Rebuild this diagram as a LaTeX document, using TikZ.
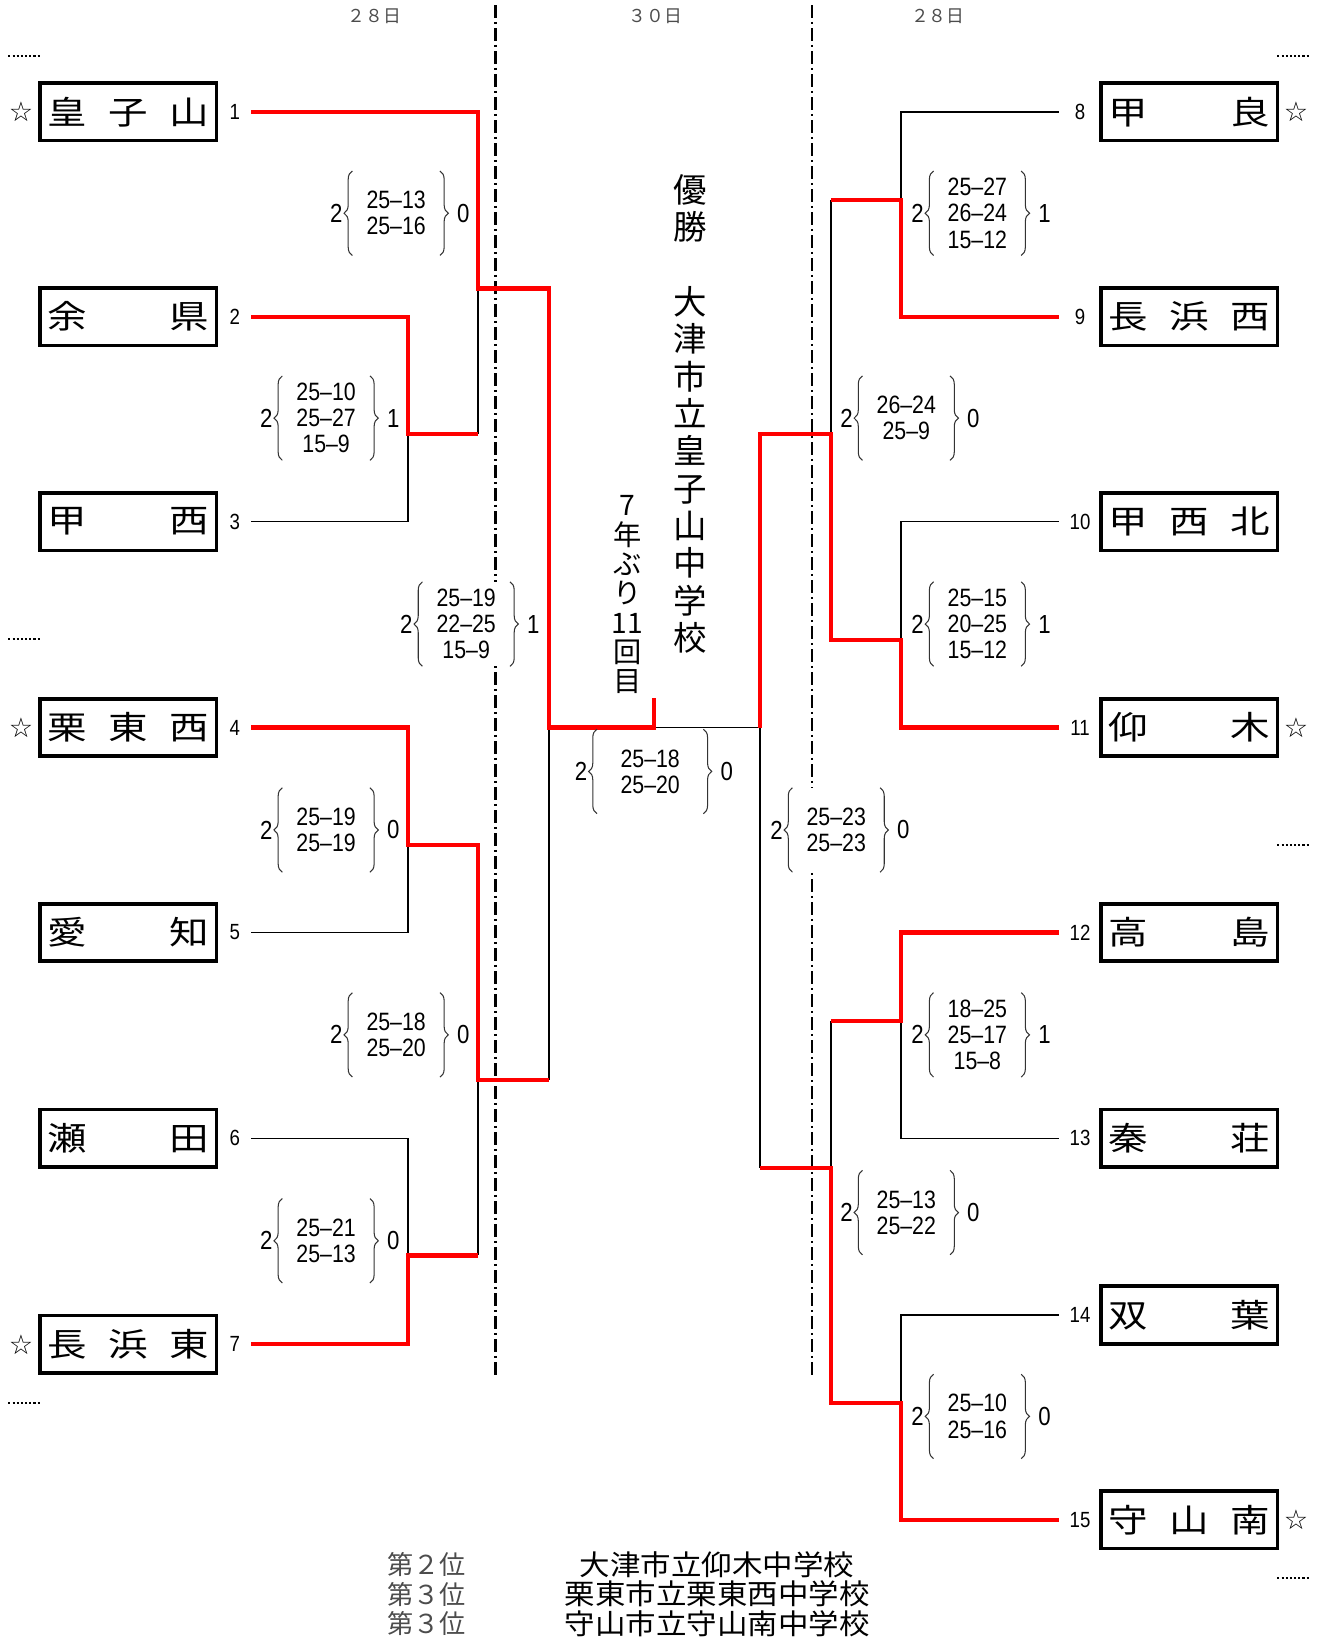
\documentclass[tikz,border=0pt]{standalone}
\usepackage{fontspec}
\usetikzlibrary{decorations.pathreplacing}
\newfontfamily\jfont{Noto Sans CJK JP}
\newfontfamily\jwide[FakeStretch=1.22]{Noto Sans CJK JP}
\newfontfamily\jbottom[FakeStretch=1.08]{Noto Sans CJK JP}
\newfontfamily\numfont[FakeStretch=0.85]{Liberation Sans}
\newfontfamily\symfont{DejaVu Sans}

\tikzset{
  teambox/.style={draw, line width=1.75pt, minimum width=84.5pt, minimum height=27.5pt,
    inner sep=0pt, text width=77.5pt, align=left, font=\jwide\fontsize{15.5}{16}\selectfont},
  numL/.style={inner sep=0pt, minimum width=15pt, font=\numfont\fontsize{10.5}{10.5}\selectfont},
  numR/.style={inner sep=0pt, minimum width=20pt, font=\numfont\fontsize{10.5}{10.5}\selectfont},
  starmark/.style={inner sep=0pt, font=\symfont\fontsize{13}{13}\selectfont},
  win/.style={red, line width=2pt},
  lose/.style={black, line width=0.8pt},
  scorebox/.style={inner sep=0pt, minimum height=40pt, align=center, fill=white,
    font=\numfont\fontsize{12}{12.5}\selectfont},
  scorebrace/.style={decorate, decoration={brace, amplitude=4pt}, line width=0.5pt, black!80},
  scoreside/.style={inner sep=1pt, font=\numfont\fontsize{12.5}{12.5}\selectfont},
  daydash/.style={line width=1pt, dash pattern=on 6pt off 2pt on 1pt off 2pt},
  dotsep/.style={line width=1pt, dash pattern=on 1pt off 1pt},
  dayname/.style={font=\jfont\fontsize{8.5}{9}\selectfont, black!70},
  champ/.style={align=center, inner sep=0pt, font=\jfont\fontsize{16}{17.85}\selectfont},
  years/.style={align=center, inner sep=0pt, font=\jfont\fontsize{13.5}{14}\selectfont},
  place/.style={inner sep=0pt, font=\jfont\fontsize{12.5}{14}\selectfont, black!70},
  school/.style={inner sep=0pt, font=\jbottom\fontsize{13.5}{14}\selectfont}
}

% score with braces: name, position, lines, sets won, sets lost, width
\newcommand{\matchscore}[6]{%
  \node[scorebox, minimum width=#6] (#1) at (#2) {#3};
  \draw[scorebrace] (#1.south west) -- (#1.north west);
  \draw[scorebrace] (#1.north east) -- (#1.south east);
  \node[scoreside, anchor=east] (#1w) at ([xshift=-3.5pt]#1.west) {#4};
  \node[scoreside, anchor=west] (#1l) at ([xshift=7pt]#1.east) {#5};
}

\begin{document}
\begin{tikzpicture}[x=0.5pt, y=-0.5pt]
  \useasboundingbox (0,0) rectangle (1264,1567);

  % Days and round separators
  \node[dayname] (d1) at (358,16) {２８日};
  \node[dayname] (d2) at (627,16) {３０日};
  \node[dayname] (d3) at (897,16) {２８日};
  \draw[daydash] (474,5) -- (474,1315);
  \draw[daydash] (777,5) -- (777,1315);
  \draw[dotsep] (8,54) -- (38,54);
  \draw[dotsep] (8,611) -- (38,611);
  \draw[dotsep] (8,1342) -- (38,1342);
  \draw[dotsep] (1222,54) -- (1252,54);
  \draw[dotsep] (1222,808) -- (1252,808);
  \draw[dotsep] (1222,1510) -- (1252,1510);

  % Left teams
  \node[teambox] (t1) at (122.5,107) {皇\hfill 子\hfill 山};
  \node[teambox] (t2) at (122.5,303) {余\hfill 県};
  \node[teambox] (t3) at (122.5,499) {甲\hfill 西};
  \node[teambox] (t4) at (122.5,696) {栗\hfill 東\hfill 西};
  \node[teambox] (t5) at (122.5,892) {愛\hfill 知};
  \node[teambox] (t6) at (122.5,1089) {瀬\hfill 田};
  \node[teambox] (t7) at (122.5,1286) {長\hfill 浜\hfill 東};
  \node[numL] (n1) at ([xshift=8pt]t1.east) {1};
  \node[numL] (n2) at ([xshift=8pt]t2.east) {2};
  \node[numL] (n3) at ([xshift=8pt]t3.east) {3};
  \node[numL] (n4) at ([xshift=8pt]t4.east) {4};
  \node[numL] (n5) at ([xshift=8pt]t5.east) {5};
  \node[numL] (n6) at ([xshift=8pt]t6.east) {6};
  \node[numL] (n7) at ([xshift=8pt]t7.east) {7};
  \node[starmark] (s1) at ([xshift=-8pt]t1.west) {☆};
  \node[starmark] (s4) at ([xshift=-8pt]t4.west) {☆};
  \node[starmark] (s7) at ([xshift=-8pt]t7.west) {☆};

  % Right teams
  \node[teambox] (t8) at (1137.5,107) {甲\hfill 良};
  \node[teambox] (t9) at (1137.5,303) {長\hfill 浜\hfill 西};
  \node[teambox] (t10) at (1137.5,499) {甲\hfill 西\hfill 北};
  \node[teambox] (t11) at (1137.5,696) {仰\hfill 木};
  \node[teambox] (t12) at (1137.5,892) {高\hfill 島};
  \node[teambox] (t13) at (1137.5,1089) {秦\hfill 荘};
  \node[teambox] (t14) at (1137.5,1258) {双\hfill 葉};
  \node[teambox] (t15) at (1137.5,1454) {守\hfill 山\hfill 南};
  \node[numR] (n8) at ([xshift=-9pt]t8.west) {8};
  \node[numR] (n9) at ([xshift=-9pt]t9.west) {9};
  \node[numR] (n10) at ([xshift=-9pt]t10.west) {10};
  \node[numR] (n11) at ([xshift=-9pt]t11.west) {11};
  \node[numR] (n12) at ([xshift=-9pt]t12.west) {12};
  \node[numR] (n13) at ([xshift=-9pt]t13.west) {13};
  \node[numR] (n14) at ([xshift=-9pt]t14.west) {14};
  \node[numR] (n15) at ([xshift=-9pt]t15.west) {15};
  \node[starmark] (s8) at ([xshift=8pt]t8.east) {☆};
  \node[starmark] (s11) at ([xshift=8pt]t11.east) {☆};
  \node[starmark] (s15) at ([xshift=8pt]t15.east) {☆};

  % Bracket joints
  \coordinate (m23) at (390,415);   \coordinate (j23) at (457,415);
  \coordinate (r1) at (457,276);    \coordinate (k1) at (525,276);
  \coordinate (m45) at (390,808);   \coordinate (j45) at (457,808);
  \coordinate (m67) at (390,1201);  \coordinate (j67) at (457,1201);
  \coordinate (r2) at (457,1033);   \coordinate (k2) at (525,1033);
  \coordinate (semi1) at (525,696);
  \coordinate (fin) at (626,696);   \coordinate (fintop) at (626,668);
  \coordinate (m89) at (862,191);   \coordinate (j89) at (795,191);
  \coordinate (m1011) at (862,612); \coordinate (j1011) at (795,612);
  \coordinate (r3) at (795,415);    \coordinate (k3) at (727,415);
  \coordinate (m1213) at (862,977); \coordinate (j1213) at (795,977);
  \coordinate (m1415) at (862,1342);\coordinate (j1415) at (795,1342);
  \coordinate (r4) at (795,1117);   \coordinate (k4) at (727,1117);
  \coordinate (semi2) at (727,696);

  % Losers
  \draw[lose] (n3.east) -| (m23);
  \draw[lose] (j23) -- (r1);
  \draw[lose] (n5.east) -| (m45);
  \draw[lose] (n6.east) -| (m67);
  \draw[lose] (j67) -- (r2);
  \draw[lose] (semi1) -- (k2);
  \draw[lose] (fin) -- (semi2) -- (k4);
  \draw[lose] (n8.west) -| (m89);
  \draw[lose] (j89) -- (r3);
  \draw[lose] (n10.west) -| (m1011);
  \draw[lose] (n13.west) -| (m1213);
  \draw[lose] (j1213) -- (r4);
  \draw[lose] (n14.west) -| (m1415);

  % Winners
  \draw[win] (n1.east) -| (r1) -- (k1) -- (semi1) -- (fin) -- (fintop);
  \draw[win] (n2.east) -| (m23) -- (j23);
  \draw[win] (n4.east) -| (m45) -- (j45) -- (r2) -- (k2);
  \draw[win] (n7.east) -| (m67) -- (j67);
  \draw[win] (n9.west) -| (m89) -- (j89);
  \draw[win] (n11.west) -| (m1011) -- (j1011) -- (r3) -- (k3) -- (semi2);
  \draw[win] (n12.west) -| (m1213) -- (j1213);
  \draw[win] (n15.west) -| (m1415) -- (j1415) -- (r4) -- (k4);

  % Scores
  \matchscore{sc1}{379,204}{25–13\\25–16}{2}{0}{41.5pt}
  \matchscore{sc2}{312,400}{25–10\\25–27\\15–9}{2}{1}{41.5pt}
  \matchscore{sc3}{446,597}{25–19\\22–25\\15–9}{2}{1}{41.5pt}
  \matchscore{sc4}{312,794}{25–19\\25–19}{2}{0}{41.5pt}
  \matchscore{sc5}{379,990}{25–18\\25–20}{2}{0}{41.5pt}
  \matchscore{sc6}{312,1187}{25–21\\25–13}{2}{0}{41.5pt}
  \matchscore{scf}{622,738}{25–18\\25–20}{2}{0}{50.5pt}
  \matchscore{sc8}{935,204}{25–27\\26–24\\15–12}{2}{1}{41.5pt}
  \matchscore{sc9}{867,400}{26–24\\25–9}{2}{0}{41.5pt}
  \matchscore{sc10}{935,597}{25–15\\20–25\\15–12}{2}{1}{41.5pt}
  \matchscore{sc11}{800,794}{25–23\\25–23}{2}{0}{41.5pt}
  \matchscore{sc12}{935,990}{18–25\\25–17\\15–8}{2}{1}{41.5pt}
  \matchscore{sc13}{867,1160}{25–13\\25–22}{2}{0}{41.5pt}
  \matchscore{sc14}{935,1355}{25–10\\25–16}{2}{0}{41.5pt}

  % Champion
  \node[champ] (champion) at (660,396) {優\\勝\\　\\大\\津\\市\\立\\皇\\子\\山\\中\\学\\校};
  \node[years] (again) at (600,569) {7\\年\\ぶ\\り\\11\\回\\目};

  % Places
  \node[place] (p2) at (408,1497) {第２位};
  \node[place] (p3) at (408,1525) {第３位};
  \node[place] (p4) at (408,1553) {第３位};
  \node[school] (q2) at (686,1497) {大津市立仰木中学校};
  \node[school] (q3) at (686,1525) {栗東市立栗東西中学校};
  \node[school] (q4) at (686,1553) {守山市立守山南中学校};
\end{tikzpicture}
\end{document}
